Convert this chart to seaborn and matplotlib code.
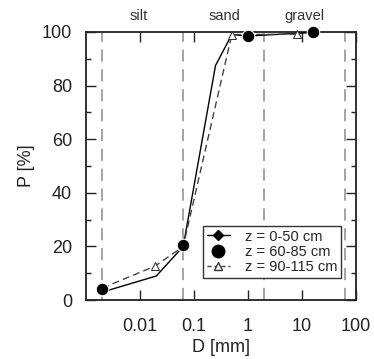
import numpy as np
import pandas as pd
import matplotlib
matplotlib.use("Agg")
import matplotlib.pyplot as plt
import matplotlib.ticker as mticker
from matplotlib.lines import Line2D
import seaborn as sns

sns.set_style("ticks")
plt.rcParams['font.family'] = ['Liberation Sans', 'DejaVu Sans']

# data
d1 = [0.002, 0.02, 0.063, 0.25, 0.5, 1.0, 16.0]
p1 = [3.0, 9.0, 20.0, 87.5, 99.0, 98.5, 99.8]
d2 = [0.002, 0.063, 1.0, 16.0]
p2 = [4.0, 20.5, 98.5, 99.8]
d3 = [0.002, 0.019, 0.063, 0.5, 8.0]
p3 = [4.5, 12.7, 20.0, 99.0, 99.2]
labels = ["z = 0-50 cm", "z = 60-85 cm", "z = 90-115 cm"]
bounds = [0.002, 0.063, 2.0, 63.0]
classes = ["silt", "sand", "gravel"]
class_x = [0.0095, 0.36, 11.0]

fig = plt.figure(figsize=(3.74, 3.59), dpi=100)
ax = fig.add_axes([0.23, 0.164, 0.722, 0.747])

for b in bounds:
    ax.axvline(b, color="#8c8c8c", lw=1.1, dashes=(8, 5), zorder=1)

df1 = pd.DataFrame({"D": d1, "P": p1})
df2 = pd.DataFrame({"D": d2, "P": p2})
df3 = pd.DataFrame({"D": d3, "P": p3})

sns.lineplot(data=df1, x="D", y="P", ax=ax, sort=False, color="black", lw=1.0,
             marker="D", markersize=4, markevery=[0, 2, 5, 6],
             clip_on=False, zorder=3, legend=False)
sns.lineplot(data=df2, x="D", y="P", ax=ax, sort=False, color="black", lw=0,
             marker="o", markersize=9, clip_on=False, zorder=4, legend=False)
sns.lineplot(data=df3, x="D", y="P", ax=ax, sort=False, color="#444444", lw=1.0,
             linestyle=(0, (5, 3)), marker="^", markersize=6,
             markerfacecolor="white", markeredgecolor="#333333",
             clip_on=False, zorder=3, legend=False)

ax.set_xscale("log")
ax.set_xlim(0.001, 100)
ax.set_ylim(0, 100)
ax.set_xticks([0.01, 0.1, 1, 10, 100])
ax.xaxis.set_major_formatter(mticker.FuncFormatter(lambda v, p: f"{v:g}"))
ax.xaxis.set_minor_locator(mticker.LogLocator(base=10, subs=np.arange(2, 10)))
ax.xaxis.set_minor_formatter(mticker.NullFormatter())
ax.set_yticks([0, 20, 40, 60, 80, 100])
ax.yaxis.set_minor_locator(mticker.MultipleLocator(10))
ax.tick_params(which="both", direction="in", top=True, right=True, labelsize=13,
               color="#222222", width=1.0, labelcolor="#222222")
ax.tick_params(which="major", length=7)
ax.tick_params(which="minor", length=3.5)
ax.tick_params(axis="y", which="major", pad=10)
ax.tick_params(axis="x", which="major", pad=13)
for s in ax.spines.values():
    s.set_linewidth(1.3)
    s.set_color("#222222")

ax.set_xlabel("D [mm]", fontsize=13, labelpad=3, color="#222222")
ax.set_ylabel("P [%]", fontsize=13, labelpad=5, color="#222222")

for c, x in zip(classes, class_x):
    ax.text(x, 103.5, c, ha="center", va="bottom", fontsize=10.5, color="#333333")

handles = [
    Line2D([], [], color="black", lw=1.0, marker="D", markersize=5),
    Line2D([], [], color="black", lw=0, marker="o", markersize=9),
    Line2D([], [], color="#444444", lw=1.0, linestyle=(0, (3, 2)), marker="^",
           markersize=6, markerfacecolor="white", markeredgecolor="#333333"),
]
leg = ax.legend(handles, labels, loc="lower left", bbox_to_anchor=(0.433, 0.082),
                fontsize=10.5, frameon=True, fancybox=False, handlelength=1.6,
                handletextpad=1.0, borderpad=0.25, labelspacing=0.1, borderaxespad=0)
leg.get_frame().set_edgecolor("#333333")
leg.get_frame().set_linewidth(1.0)
leg.get_frame().set_alpha(1)

fig.savefig("out.png", dpi=100)
